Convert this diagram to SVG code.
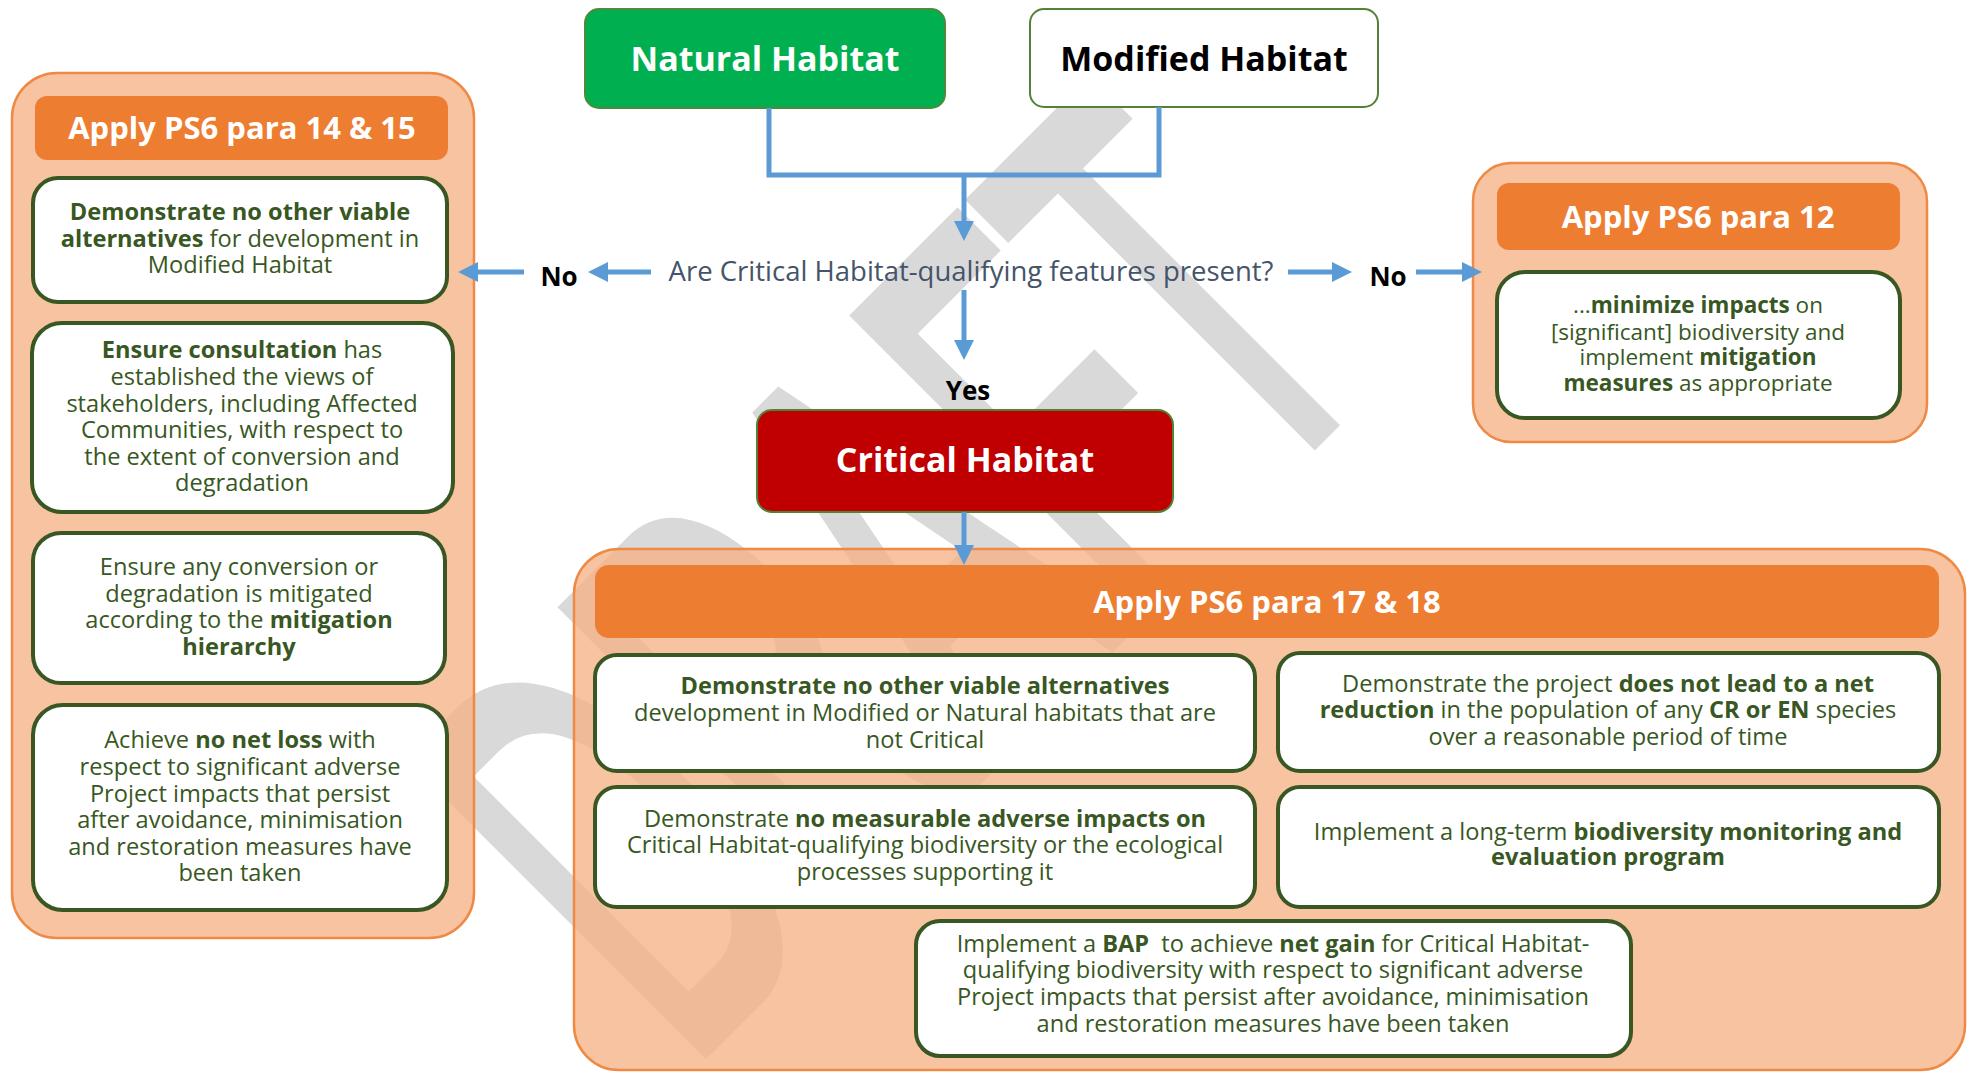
<svg xmlns="http://www.w3.org/2000/svg" width="1970" height="1072" viewBox="0 0 1970 1072">
<style>
text{font-family:"Open Sans","Noto Sans","Liberation Sans",sans-serif}
.wm{font-family:"Liberation Sans",sans-serif;font-weight:normal;font-size:594px;fill:#d9d9d9;stroke:#d9d9d9;stroke-width:16}
.cont{fill:#F4B183;fill-opacity:0.77;stroke:#EE8A45;stroke-width:2.5}
.hdr{fill:#ED7D31}
.hdrt{fill:#fff;font-weight:bold;font-size:31px;text-anchor:middle}
.box{fill:#fff;stroke:#385723;stroke-width:4}
.bt{fill:#385723;font-size:23.6px;text-anchor:middle}
.rt{fill:#385723;font-size:22.5px;text-anchor:middle}
.b{font-weight:bold}
.conn{fill:none;stroke:#5B9BD5;stroke-width:5}
.lbl{font-weight:bold;font-size:26px;fill:#000;text-anchor:middle}
.big{font-weight:bold;font-size:34px;text-anchor:middle}
</style>
<defs>
<marker id="ah" viewBox="0 0 20 20" refX="0" refY="10" markerWidth="20" markerHeight="20" markerUnits="userSpaceOnUse" orient="auto">
<path d="M0,0 L20,10 L0,20 z" fill="#5B9BD5"/>
</marker>
</defs>
<rect width="1970" height="1072" fill="#fff"/>
<text class="wm" transform="translate(686,1068) rotate(-45) scale(0.5,1)" x="0" y="0">DRAFT</text>

<g id="ps6-14-15">
<rect class="cont" x="12" y="73" width="462" height="865" rx="45"/>
<rect class="hdr" x="35" y="96" width="413" height="64" rx="12"/>
<text class="hdrt" x="242" y="139">Apply PS6 para 14 &amp; 15</text>
</g>
<g id="box-alt-modified">
<rect class="box" x="33" y="178" width="414" height="124" rx="25"/>
<text class="bt" x="240" y="220"><tspan class="b">Demonstrate no other viable</tspan></text>
<text class="bt" x="240" y="247"><tspan class="b">alternatives</tspan> for development in</text>
<text class="bt" x="240" y="273">Modified Habitat</text>
</g>
<g id="box-consultation">
<rect class="box" x="32" y="323" width="421" height="189" rx="30"/>
<text class="bt" x="242" y="358"><tspan class="b">Ensure consultation</tspan> has</text>
<text class="bt" x="242" y="385">established the views of</text>
<text class="bt" x="242" y="412">stakeholders, including Affected</text>
<text class="bt" x="242" y="438">Communities, with respect to</text>
<text class="bt" x="242" y="465">the extent of conversion and</text>
<text class="bt" x="242" y="491">degradation</text>
</g>
<g id="box-mitigation">
<rect class="box" x="33" y="533" width="412" height="150" rx="28"/>
<text class="bt" x="239" y="575">Ensure any conversion or</text>
<text class="bt" x="239" y="602">degradation is mitigated</text>
<text class="bt" x="239" y="628">according to the <tspan class="b">mitigation</tspan></text>
<text class="bt" x="239" y="655"><tspan class="b">hierarchy</tspan></text>
</g>
<g id="box-no-net-loss">
<rect class="box" x="33" y="705" width="414" height="205" rx="30"/>
<text class="bt" x="240" y="748">Achieve <tspan class="b">no net loss</tspan> with</text>
<text class="bt" x="240" y="775">respect to significant adverse</text>
<text class="bt" x="240" y="802">Project impacts that persist</text>
<text class="bt" x="240" y="828">after avoidance, minimisation</text>
<text class="bt" x="240" y="855">and restoration measures have</text>
<text class="bt" x="240" y="881">been taken</text>
</g>

<g id="natural-habitat">
<rect x="585" y="9" width="360" height="99" rx="14" fill="#00B050" stroke="#4E8A3A" stroke-width="2"/>
<text class="big" x="765" y="71" fill="#fff">Natural Habitat</text>
</g>
<g id="modified-habitat">
<rect x="1030" y="9" width="348" height="98" rx="14" fill="#fff" stroke="#548235" stroke-width="2"/>
<text class="big" x="1204" y="71" fill="#000" font-size="35">Modified Habitat</text>
</g>

<g id="question">
<text x="971" y="281" font-size="27.5" fill="#44546A" text-anchor="middle">Are Critical Habitat-qualifying features present?</text>
</g>

<g id="critical-habitat">
<rect x="757" y="410" width="416" height="102" rx="15" fill="#C00000" stroke="#548235" stroke-width="2"/>
<text class="big" x="965" y="472" fill="#fff">Critical Habitat</text>
</g>

<g id="ps6-12">
<rect class="cont" x="1473" y="163" width="454" height="279" rx="38"/>
<rect class="hdr" x="1497" y="183" width="403" height="67" rx="12"/>
<text class="hdrt" x="1698" y="228">Apply PS6 para 12</text>
</g>
<g id="box-minimize">
<rect class="box" x="1497" y="272" width="403" height="146" rx="28"/>
<text class="rt" x="1698" y="313">...<tspan class="b">minimize impacts</tspan> on</text>
<text class="rt" x="1698" y="340">[significant] biodiversity and</text>
<text class="rt" x="1698" y="365">implement <tspan class="b">mitigation</tspan></text>
<text class="rt" x="1698" y="391"><tspan class="b">measures</tspan> as appropriate</text>
</g>

<g id="ps6-17-18">
<rect class="cont" x="574" y="549" width="1391" height="521" rx="45"/>
<rect class="hdr" x="595" y="565" width="1344" height="73" rx="14"/>
<text class="hdrt" x="1267" y="613">Apply PS6 para 17 &amp; 18</text>
</g>
<g id="box-alt-critical">
<rect class="box" x="595" y="655" width="660" height="116" rx="22"/>
<text class="bt" x="925" y="694"><tspan class="b">Demonstrate no other viable alternatives</tspan></text>
<text class="bt" x="925" y="721">development in Modified or Natural habitats that are</text>
<text class="bt" x="925" y="748">not Critical</text>
</g>
<g id="box-no-measurable">
<rect class="box" x="595" y="787" width="660" height="120" rx="22"/>
<text class="bt" x="925" y="827">Demonstrate <tspan class="b">no measurable adverse impacts on</tspan></text>
<text class="bt" x="925" y="853">Critical Habitat-qualifying biodiversity or the ecological</text>
<text class="bt" x="925" y="880">processes supporting it</text>
</g>
<g id="box-net-reduction">
<rect class="box" x="1278" y="653" width="661" height="118" rx="22"/>
<text class="bt" x="1608" y="692">Demonstrate the project <tspan class="b">does not lead to a net</tspan></text>
<text class="bt" x="1608" y="718"><tspan class="b">reduction</tspan> in the population of any <tspan class="b">CR or EN</tspan> species</text>
<text class="bt" x="1608" y="745">over a reasonable period of time</text>
</g>
<g id="box-monitoring">
<rect class="box" x="1278" y="787" width="661" height="120" rx="22"/>
<text class="bt" x="1608" y="840">Implement a long-term <tspan class="b">biodiversity monitoring and</tspan></text>
<text class="bt" x="1608" y="865"><tspan class="b">evaluation program</tspan></text>
</g>
<g id="box-bap">
<rect class="box" x="916" y="921" width="715" height="135" rx="24"/>
<text class="bt" x="1273" y="952">Implement a <tspan class="b">BAP</tspan>&#160; to achieve <tspan class="b">net gain</tspan> for Critical Habitat-</text>
<text class="bt" x="1273" y="978">qualifying biodiversity with respect to significant adverse</text>
<text class="bt" x="1273" y="1005">Project impacts that persist after avoidance, minimisation</text>
<text class="bt" x="1273" y="1032">and restoration measures have been taken</text>
</g>

<g id="connectors">
<polyline class="conn" points="769,108 769,175 1159,175 1159,107"/>
<line class="conn" x1="964" y1="175" x2="964" y2="221" marker-end="url(#ah)"/>
<line class="conn" x1="964" y1="290" x2="964" y2="340" marker-end="url(#ah)"/>
<line class="conn" x1="964" y1="512" x2="964" y2="545" marker-end="url(#ah)"/>
<line class="conn" x1="651" y1="272" x2="608" y2="272" marker-end="url(#ah)"/>
<line class="conn" x1="524" y1="272" x2="478" y2="272" marker-end="url(#ah)"/>
<line class="conn" x1="1288" y1="272" x2="1332" y2="272" marker-end="url(#ah)"/>
<line class="conn" x1="1416" y1="272" x2="1462" y2="272" marker-end="url(#ah)"/>
<text class="lbl" x="559" y="286">No</text>
<text class="lbl" x="1388" y="286">No</text>
<text class="lbl" x="968" y="400">Yes</text>
</g>
</svg>
